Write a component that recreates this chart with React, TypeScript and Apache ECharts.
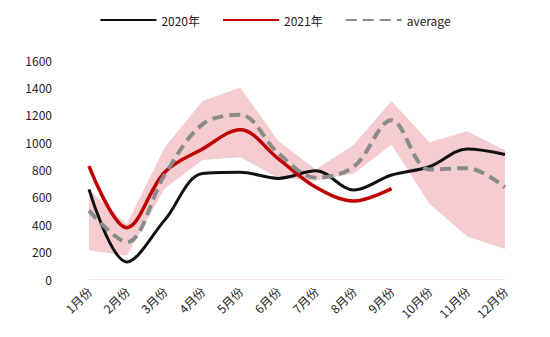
import React, { useEffect, useRef } from "react";
import * as echarts from "echarts";

const months = ["1月份", "2月份", "3月份", "4月份", "5月份", "6月份", "7月份", "8月份", "9月份", "10月份", "11月份", "12月份"];
const y2020 = [655, 125, 430, 770, 780, 735, 790, 650, 760, 820, 950, 910];
const y2021 = [825, 375, 780, 950, 1090, 880, 670, 570, 660];
const avg = [500, 270, 760, 1130, 1200, 920, 740, 820, 1160, 800, 810, 670];
const bandLow = [210, 170, 660, 870, 890, 740, 720, 770, 980, 550, 310, 220];
const bandHigh = [650, 400, 960, 1300, 1400, 1010, 800, 980, 1300, 1000, 1080, 940];
const yTicks = { min: 0, max: 1600, interval: 200 };

export default function App() {
  const ref = useRef<HTMLDivElement>(null);
  useEffect(() => {
    const chart = echarts.init(ref.current!, null, { renderer: "svg" });
    const font = "'Noto Sans CJK SC', 'Noto Sans', sans-serif";
    chart.setOption({
      animation: false,
      textStyle: { fontFamily: font },
      legend: {
        data: ["2020年", "2021年", "average"],
        top: 9,
        left: "center",
        itemWidth: 56,
        itemHeight: 12,
        itemGap: 22,
        itemStyle: { opacity: 0 },
        textStyle: { fontSize: 12, color: "#222", fontFamily: font },
      },
      grid: { left: 89, right: 45, top: 60, bottom: 58, containLabel: false },
      xAxis: {
        type: "category",
        data: months,
        boundaryGap: false,
        axisLine: { show: true, lineStyle: { color: "#f6e6e8" } },
        axisTick: { show: false },
        axisLabel: { rotate: 45, fontSize: 12, color: "#222", margin: 10, interval: 0 },
        splitLine: { show: false },
      },
      yAxis: {
        type: "value",
        min: yTicks.min,
        max: yTicks.max,
        interval: yTicks.interval,
        axisLine: { show: false },
        axisTick: { show: false },
        splitLine: { show: false },
        axisLabel: { fontSize: 12, color: "#222", margin: 37, formatter: (v: number) => String(v) },
      },
      series: [
        {
          name: "bandLow",
          type: "line",
          data: bandLow,
          stack: "band",
          symbol: "none",
          lineStyle: { opacity: 0 },
          silent: true,
        },
        {
          name: "band",
          type: "line",
          data: bandHigh.map((h, i) => h - bandLow[i]),
          stack: "band",
          symbol: "none",
          lineStyle: { opacity: 0 },
          areaStyle: { color: "#f5cdd0", opacity: 1 },
          silent: true,
        },
        {
          name: "2020年",
          type: "line",
          data: y2020,
          smooth: 0.35,
          symbol: "none",
          lineStyle: { color: "#111", width: 3 },
          itemStyle: { color: "#111" },
        },
        {
          name: "2021年",
          type: "line",
          data: y2021,
          smooth: 0.35,
          symbol: "none",
          lineStyle: { color: "#c00000", width: 3.5 },
          itemStyle: { color: "#c00000" },
        },
        {
          name: "average",
          type: "line",
          data: avg,
          smooth: 0.35,
          symbol: "none",
          lineStyle: { color: "#8a8a8a", width: 4, type: [11, 6] },
          itemStyle: { color: "#8a8a8a" },
        },
      ],
    });
    return () => chart.dispose();
  }, []);
  return <div ref={ref} style={{ width: 550, height: 337, position: "absolute", left: 0, top: 0 }} />;
}
